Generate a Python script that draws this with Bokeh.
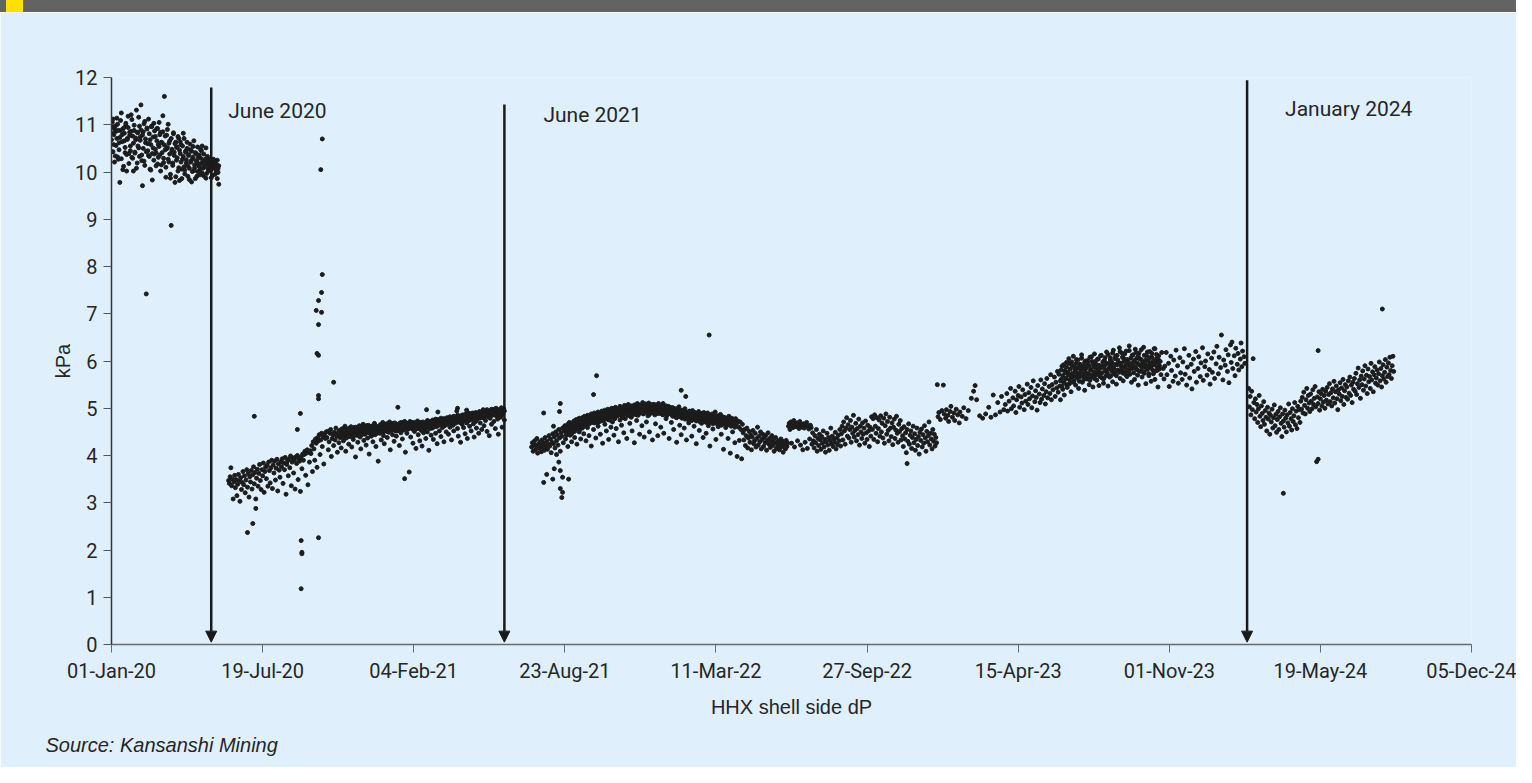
import pandas as pd
from bokeh.plotting import figure
from bokeh.layouts import column
from bokeh.models import Range1d, FixedTicker, Arrow, NormalHead, Label, Title, Div
from bokeh.embed import file_html
from bokeh.resources import INLINE

N = None
ORIGIN = pd.Timestamp("2020-01-01")

tick_labels = ["01-Jan-20", "19-Jul-20", "04-Feb-21", "23-Aug-21", "11-Mar-22",
               "27-Sep-22", "15-Apr-23", "01-Nov-23", "19-May-24", "05-Dec-24"]
y_ticks = [0, 1, 2, 3, 4, 5, 6, 7, 8, 9, 10, 11, 12]

# daily readings, segment by segment (None = no reading that day)
seg_a_start = "2020-01-01"
seg_a = [10.95, 10.82, 11.12, 10.58, 10.91, 10.34, 10.86, 10.71, 11.01, 10.27,
         10.62, 9.78, 10.88, 11.25, 10.79, 10.05, 10.93, 10.66, 10.41, 10.99,
         10.02, 10.71, 11.18, 10.39, 10.84, 10.55, 11.21, 10.31, 10.76, 10.02,
         10.88, 10.42, 10.68, 11.31, 10.19, 10.83, 10.51, 10.97, 10.74, 11.42,
         10.36, 9.71, 10.85, 10.23, 11.07, 10.62, 7.42, 10.91, 10.45, 11.12,
         10.33, 10.68, 10.04, 10.96, 9.83, 10.51, 11.03, 10.38, 10.75, 10.41,
         10.92, 10.17, 10.58, 11.05, 10.36, 10.84, 10.15, 10.62, 11.19, 10.29,
         11.6, 10.47, 9.89, 10.78, 10.52, 11.01, 10.21, 10.66, 9.87, 8.87,
         10.48, 10.14, 10.81, 10.42, 9.78, 10.63, 10.25, 10.53, 10.02, 10.71,
         9.82, 10.39, 10.58, 10.06, 10.27, 10.82, 10.11, 9.96, 10.44, 10.19,
         10.63, 9.91, 10.35, 10.08, 10.47, 10.21, 9.79, 10.28, 10.54, 10.03,
         10.15, 9.86, 10.39, 10.22, 10.01, 10.31, 10.12, 9.94, 10.47, 10.18,
         10.55, 10.08, 9.92, 10.24, 10.13, 10.51, 9.97, 10.19, 10.05, 10.26,
         10.14, 10.02, 9.88, 10.21, 10.09, 10.27, 10.17, 9.95, 10.11, 10.03,
         9.86, 10.07, 9.74]

# second reading of the day, same period
seg_a2_start = "2020-01-01"
seg_a2 = [10.68, 11.05, 10.43, 10.79, 10.21, 10.97, 10.56, 11.14, 10.32, 10.88,
          10.47, 10.73, 11.09, 10.28, 10.64, 10.91, 10.12, 10.82, 10.52, 11.03,
          10.37, 10.69, 10.94, 10.18, 10.77, 10.45, 10.86, 11.11, 10.29, 10.61,
          10.99, 10.4, 10.72, 10.08, 10.84, 10.55, 11.16, 10.33, 10.67, 10.89,
          10.24, 10.78, 10.5, 11.02, 10.14, 10.7, 10.43, 10.93, 10.6, 10.35,
          10.81, 10.06, 10.58, 10.97, 10.39, 10.74, 10.25, 10.87, 10.48, 10.13,
          10.66, 10.92, 10.31, 10.54, 10.79, 10.02, 10.63, 10.41, 10.85, 10.2,
          10.57, 10.76, 10.1, 10.49, 10.9, 10.27, 10.61, 10.38, 9.95, 10.71,
          10.44, 10.19, 10.83, 10.35, 10.6, 9.9, 10.52, 10.3, 10.75, 10.09,
          10.46, 10.64, 10.21, 9.86, 10.55, 10.33, 10.71, 10.04, 10.42, 10.26,
          10.5, 10.13, 10.37, 9.84, 10.59, 10.23, 10.44, 10.01, 10.32, 10.66,
          10.09, 10.41, 10.24, 9.91, 10.53, 10.17, 10.36, 10.05, 10.29, 10.45,
          9.98, 10.21, 10.38, 10.11, 10.27, 9.87, 10.16, 10.33, 10.06, 10.22,
          10.19, 10.28, 10.07, 10.15, 9.93, 10.24, 10.12, 10.2, 10.04, 10.16,
          10.25, 9.99, 10.13]

seg_b_start = "2020-06-04"
seg_b = [3.47, 3.41, 3.55, 3.74, 3.36, 3.5, 3.08, 3.44, 3.58, 3.32,
         3.49, 3.15, 3.39, 3.6, 3.46, 3.03, 3.53, 3.28, 3.43, 3.66,
         3.38, 3.57, 3.21, 3.48, 3.7, 3.33, 3.62, 3.12, 3.55, 3.44,
         3.68, 3.29, 3.59, 3.76, 3.4, 3.64, 3.08, 3.52, 3.71, 3.35,
         3.62, 3.81, 3.47, 3.28, 3.7, 3.57, 3.84, 3.22, 3.66, 3.75,
         3.51, 3.79, 3.35, 3.86, 3.68, 3.42, 3.74, 3.9, 3.3, 3.8,
         3.63, 3.88, 3.48, 3.73, 3.92, 3.25, 3.82, 3.69, 3.54, 3.87,
         3.76, 3.93, 3.41, 3.84, 3.7, 3.96, 3.18, 3.81, 3.89, 3.57,
         3.92, 3.74, 3.99, 3.36, 3.86, 3.95, 3.63, 3.9, 3.29, 3.97,
         3.83, 4.0, 3.49, 3.93, 3.88, 3.24, 3.97, 3.72, 4.03, 3.9,
         4.02, 4.09, 3.58, 4.05, 4.12, 3.38, 4.07, 3.86, 4.1, 4.04,
         4.21, 3.66, 4.29, 4.14, 3.9, 4.35, 4.26, 3.75, 4.38, 4.31,
         4.44, 4.02, 4.33, 4.47, 4.19, 4.4, 3.82, 4.46, 4.36, 4.5,
         4.38, 4.51, 4.12, 4.29, 4.47, 4.55, 3.98, 4.36, 4.44, 4.21,
         4.49, 4.33, 4.58, 4.41, 4.07, 4.46, 4.27, 4.53, 4.39, 4.16,
         4.42, 4.57, 4.31, 4.48, 4.62, 4.09, 4.37, 4.52, 4.45, 4.24,
         4.55, 4.4, 4.61, 4.18, 4.47, 4.34, 4.59, 4.5, 3.97, 4.43,
         4.58, 4.28, 4.46, 4.63, 4.39, 4.14, 4.54, 4.49, 4.66, 4.32,
         4.45, 4.6, 4.22, 4.51, 4.37, 4.64, 4.03, 4.48, 4.56, 4.41,
         4.62, 4.29, 4.53, 4.68, 4.44, 4.19, 4.57, 4.5, 3.88, 4.61,
         4.47, 4.65, 4.33, 4.56, 4.7, 4.42, 4.25, 4.59, 4.52, 4.67,
         4.38, 4.63, 4.49, 4.71, 4.12, 4.55, 4.6, 4.44, 4.68, 4.3,
         4.57, 4.66, 4.41, 4.52, 5.02, 4.62, 4.21, 4.69, 4.48, 4.58,
         4.35, 4.64, 4.54, 4.72, 4.07, 4.6, 4.47, 4.67, 4.56, 3.65,
         4.63, 4.39, 4.58, 4.7, 4.26, 4.61, 4.51, 4.68, 4.15, 4.57,
         4.66, 4.44, 4.59, 4.31, 4.7, 4.53, 4.2, 4.62, 4.48, 4.67,
         4.55, 4.36, 4.64, 4.5, 4.73, 4.11, 4.6, 4.57, 4.43, 4.69,
         4.58, 4.34, 4.66, 4.75, 4.47, 4.61, 4.25, 4.92, 4.64, 4.52,
         4.71, 4.4, 4.68, 4.59, 4.77, 4.29, 4.63, 4.73, 4.5, 4.66,
         4.76, 4.45, 4.69, 4.6, 4.79, 4.33, 4.72, 4.64, 4.52, 4.8,
         4.68, 4.75, 4.94, 4.57, 4.41, 4.78, 4.7, 4.28, 4.82, 4.66,
         4.73, 4.59, 4.85, 4.46, 4.77, 4.69, 4.36, 4.9, 4.74, 4.62,
         4.81, 4.52, 4.76, 4.88, 4.67, 4.39, 4.83, 4.72, 4.58, 4.86,
         4.78, 4.47, 4.84, 4.69, 4.91, 4.55, 4.8, 4.97, 4.63, 4.87,
         4.74, 4.93, 4.51, 4.83, 4.89, 4.42, 4.79, 4.95, 4.66, 4.86,
         4.9, 4.72, 4.98, 4.57, 4.84, 4.93, 4.77, 4.45, 4.88, 4.96,
         4.81, 4.92, 4.6, 4.87, 4.99, 4.75]

seg_b2_start = "2020-10-27"
seg_b2 = [4.43, 4.51, 4.38, 4.47, 4.55, 4.41, 4.49, 4.36, 4.53, 4.45,
          4.5, 4.39, 4.56, 4.44, 4.48, 4.58, 4.42, 4.52, 4.46, 4.57,
          4.4, 4.54, 4.49, 4.6, 4.45, 4.51, 4.43, 4.59, 4.5, 4.47,
          4.56, 4.44, 4.61, 4.52, 4.48, 4.58, 4.46, 4.63, 4.53, 4.49,
          4.6, 4.5, 4.57, 4.45, 4.62, 4.54, 4.48, 4.59, 4.51, 4.64,
          4.55, 4.47, 4.61, 4.53, 4.58, 4.49, 4.65, 4.56, 4.52, 4.6,
          4.5, 4.63, 4.57, 4.54, 4.66, 4.51, 4.59, 4.62, 4.55, 4.68,
          4.58, 4.53, 4.64, 4.6, 4.56, 4.69, 4.52, 4.62, 4.66, 4.57,
          4.63, 4.55, 4.67, 4.6, 4.7, 4.54, 4.65, 4.59, 4.71, 4.62,
          4.56, 4.68, 4.61, 4.66, 4.58, 4.72, 4.63, 4.6, 4.69, 4.55,
          4.65, 4.7, 4.59, 4.67, 4.62, 4.73, 4.57, 4.64, 4.69, 4.6,
          4.66, 4.58, 4.71, 4.63, 4.68, 4.56, 4.7, 4.62, 4.74, 4.61,
          4.67, 4.72, 4.6, 4.69, 4.64, 4.75, 4.62, 4.7, 4.66, 4.77,
          4.63, 4.71, 4.76, 4.67, 4.73, 4.65, 4.79, 4.69, 4.74, 4.66,
          4.78, 4.71, 4.75, 4.68, 4.8, 4.73, 4.77, 4.7, 4.82, 4.74,
          4.69, 4.79, 4.75, 4.83, 4.72, 4.77, 4.81, 4.7, 4.85, 4.76,
          4.8, 4.73, 4.84, 4.78, 4.71, 4.86, 4.79, 4.83, 4.75, 4.88,
          4.77, 4.82, 4.86, 4.74, 4.89, 4.8, 4.84, 4.78, 4.9, 4.81,
          4.86, 4.79, 4.91, 4.83, 4.77, 4.88, 4.82, 4.93, 4.85, 4.8,
          4.9, 4.84, 4.95, 4.81, 4.88, 4.92, 4.86, 4.97, 4.83, 4.91,
          4.87, 4.94, 4.89, 4.98, 4.85, 4.93, 4.9, 4.96, 4.88, 5.0,
          4.92, 4.86, 4.97, 4.91, 4.95, 4.89, 5.01, 4.93, 4.9, 4.98,
          4.94]

seg_c_start = "2021-07-10"
seg_c = [4.18, 4.27, 4.09, 4.23, 4.31, 4.12, 4.2, 4.36, 4.05, 4.24,
         4.15, 4.29, 4.21, 4.08, 4.33, 4.17, 4.26, 4.11, 4.38, 4.19,
         4.3, 4.13, 4.24, 4.42, 4.2, 4.35, 4.06, 4.28, 4.46, 4.25,
         4.39, 4.16, 4.5, 4.31, 4.44, 4.22, 4.55, 4.37, 4.09, 4.48,
         4.41, 4.58, 4.27, 4.52, 4.63, 4.35, 4.47, 4.6, 4.19, 4.54,
         4.66, 4.43, 4.57, 4.29, 4.69, 4.51, 4.62, 4.38, 4.71, 4.56,
         4.24, 4.65, 4.74, 4.5, 4.61, 4.35, 4.7, 4.58, 4.77, 4.46,
         4.67, 4.79, 4.31, 4.72, 4.59, 4.82, 4.42, 4.68, 4.76, 4.2,
         4.73, 4.84, 4.55, 4.69, 4.8, 4.37, 4.75, 4.87, 4.62, 4.71,
         4.83, 4.45, 4.78, 4.9, 4.26, 4.74, 4.85, 4.66, 4.81, 4.52,
         4.88, 4.76, 4.34, 4.92, 4.8, 4.6, 4.86, 4.71, 4.95, 4.43,
         4.79, 4.9, 4.57, 4.84, 4.97, 4.29, 4.87, 4.75, 4.93, 4.64,
         4.82, 5.0, 4.48, 4.89, 4.78, 4.96, 4.36, 4.91, 4.85, 5.03,
         4.68, 4.94, 4.81, 4.52, 4.99, 4.87, 4.27, 4.92, 5.05, 4.74,
         4.96, 4.85, 5.07, 4.45, 4.98, 4.9, 4.63, 5.02, 4.88, 4.39,
         5.06, 4.93, 4.71, 5.0, 4.84, 5.09, 4.5, 4.97, 4.91, 5.04,
         4.33, 4.95, 5.08, 4.86, 4.67, 5.01, 4.92, 4.42, 5.05, 4.89,
         4.98, 4.6, 5.03, 4.87, 5.1, 4.47, 4.94, 5.02, 4.78, 4.97,
         4.88, 5.04, 4.36, 4.93, 4.99, 4.7, 4.85, 5.01, 4.55, 4.9,
         4.97, 4.81, 4.28, 4.95, 4.87, 5.03, 4.64, 4.89, 4.44, 4.96,
         4.84, 4.92, 4.58, 4.99, 4.8, 4.33, 4.9, 4.86, 4.69, 4.94,
         4.79, 4.88, 4.41, 4.95, 4.83, 4.62, 4.91, 4.76, 4.25, 4.87,
         4.82, 4.93, 4.53, 4.78, 4.89, 4.68, 4.84, 4.38, 4.91, 4.75,
         4.86, 4.47, 4.8, 4.9, 4.63, 4.77, 4.2, 4.85, 4.73, 4.88,
         4.56, 4.81, 4.7, 4.92, 4.34, 4.76, 4.84, 4.61, 4.79, 4.69,
         4.87, 4.45, 4.74, 4.82, 4.13, 4.71, 4.8, 4.59, 4.77, 4.66,
         4.36, 4.83, 4.72, 4.05, 4.68, 4.79, 4.5, 4.74, 4.64, 4.27,
         4.78, 4.69, 3.98, 4.73, 4.6, 4.32, 4.71, 4.55, 3.93, 4.66,
         4.48, 4.33, 4.55, 4.21, 4.42, 4.58, 4.16, 4.37, 4.51, 4.28,
         4.44, 4.12, 4.39, 4.53, 4.25, 4.31, 4.47, 4.18, 4.36, 4.6,
         4.22, 4.41, 4.29, 4.5, 4.14, 4.34, 4.45, 4.19, 4.38, 4.27,
         4.43, 4.11, 4.32, 4.48, 4.24, 4.36, 4.17, 4.29, 4.42, 4.21,
         4.33, 4.09, 4.26, 4.38, 4.15, 4.28, 4.2, 4.31, 4.12, 4.24,
         4.35, 4.18, 4.27, 4.07, 4.3, 4.22, 4.14, 4.32, 4.19, 4.26,
         4.62, 4.68, 4.55, 4.71, 4.26, 4.64, 4.59, 4.74, 4.18, 4.66,
         4.61, 4.69, 4.31, 4.63, 4.57, 4.72, 4.22, 4.65, 4.6, 4.12,
         4.67, 4.58, 4.28, 4.63, 4.7, 4.15, 4.61, 4.56, 4.35, 4.64,
         4.59, 4.24, 4.48, 4.31, 4.16, 4.42, 4.27, 4.55, 4.09, 4.36,
         4.21, 4.45, 4.33, 4.13, 4.4, 4.26, 4.52, 4.18, 4.34, 4.07,
         4.29, 4.47, 4.22, 4.38, 4.11, 4.32, 4.58, 4.25, 4.41, 4.19,
         4.35, 4.28, 4.49, 4.14, 4.37, 4.23, 4.43, 4.31, 4.55, 4.2,
         4.46, 4.62, 4.33, 4.71, 4.52, 4.24, 4.58, 4.8, 4.41, 4.65,
         4.37, 4.55, 4.74, 4.28, 4.6, 4.47, 4.85, 4.39, 4.53, 4.68,
         4.31, 4.57, 4.44, 4.77, 4.22, 4.62, 4.5, 4.36, 4.69, 4.45,
         4.58, 4.26, 4.73, 4.48, 4.34, 4.64, 4.52, 4.19, 4.6, 4.41,
         4.82, 4.55, 4.78, 4.34, 4.86, 4.62, 4.47, 4.8, 4.29, 4.57,
         4.75, 4.41, 4.84, 4.5, 4.68, 4.37, 4.79, 4.26, 4.63, 4.88,
         4.45, 4.72, 4.53, 4.31, 4.81, 4.58, 4.4, 4.69, 4.23, 4.6,
         4.77, 4.36, 4.54, 4.83, 4.47, 4.28, 4.66, 4.51, 4.74, 4.33,
         4.57, 4.42, 4.19, 4.61, 4.35, 4.48, 4.06, 4.55, 4.3, 4.67,
         4.24, 4.43, 4.52, 4.15, 4.38, 4.62, 4.27, 4.46, 4.11, 4.34,
         4.58, 4.21, 4.4, 4.03, 4.49, 4.32, 4.56, 4.18, 4.44, 4.26,
         4.63, 4.37, 4.09, 4.51, 4.29, 4.42, 4.71, 4.22, 4.47, 4.35,
         4.14, 4.55, 4.3, 4.45, 4.2, 4.38, 4.27]

seg_c2_start = "2021-08-23"
seg_c2 = [4.52, 4.61, 4.43, 4.57, 4.66, 4.49, 4.7, 4.55, 4.63, 4.46,
          4.68, 4.59, 4.73, 4.51, 4.65, 4.76, 4.58, 4.69, 4.62, 4.79,
          4.55, 4.71, 4.66, 4.8, 4.6, 4.74, 4.83, 4.64, 4.77, 4.69,
          4.85, 4.72, 4.67, 4.81, 4.76, 4.88, 4.7, 4.84, 4.78, 4.9,
          4.74, 4.86, 4.8, 4.69, 4.92, 4.83, 4.77, 4.89, 4.73, 4.94,
          4.81, 4.87, 4.76, 4.96, 4.84, 4.91, 4.79, 4.98, 4.86, 4.75,
          4.93, 4.88, 5.0, 4.82, 4.95, 4.9, 4.78, 5.02, 4.87, 4.97,
          4.84, 4.99, 4.92, 5.04, 4.86, 4.96, 5.01, 4.8, 4.94, 5.06,
          4.89, 4.98, 5.03, 4.85, 5.08, 4.93, 4.99, 4.83, 5.05, 4.91,
          5.02, 4.88, 5.07, 4.95, 5.0, 4.86, 5.1, 4.97, 5.04, 4.9,
          5.06, 4.93, 5.01, 5.12, 4.89, 5.05, 4.98, 5.09, 4.92, 5.03,
          4.96, 5.11, 4.87, 5.04, 5.0, 4.94, 5.08, 4.91, 5.02, 4.97,
          5.07, 4.88, 5.01, 4.95, 5.1, 4.9, 5.04, 4.93, 4.99, 5.06,
          4.86, 5.03, 4.97, 4.91, 5.05, 4.84, 5.0, 4.94, 4.89, 5.02,
          4.92, 4.87, 5.01, 4.83, 4.96, 4.9, 4.85, 4.99, 4.8, 4.93,
          4.88, 4.97, 4.82, 4.91, 4.86, 4.79, 4.95, 4.84, 4.9, 4.77,
          4.93, 4.81, 4.87, 4.76, 4.92, 4.85, 4.8, 4.89, 4.74, 4.86,
          4.82, 4.91, 4.77, 4.84, 4.73, 4.88, 4.8, 4.75, 4.86, 4.71,
          4.83, 4.78, 4.89, 4.72, 4.81, 4.76, 4.85, 4.7, 4.79, 4.74,
          4.84, 4.69, 4.77, 4.82, 4.72, 4.8, 4.67, 4.76, 4.83, 4.7,
          4.78, 4.73, 4.66, 4.81, 4.75, 4.69, 4.79, 4.64, 4.77, 4.72,
          4.67, 4.8, 4.71, 4.63, 4.76, 4.7, 4.65, 4.78, 4.68, 4.73,
          4.62, 4.75, 4.69, 4.66, 4.72, 4.6, 4.7, 4.67]

seg_d_start = "2022-12-29"
seg_d = [5.5, 4.82, 4.91, N, 4.76, N, 4.95, N, 5.49, 4.88,
         N, 4.79, 4.97, N, 4.85, 4.72, N, 4.93, 5.04, N,
         4.81, N, 4.9, 4.74, N, 4.98, N, 4.86, N, 4.69,
         4.92, N, N, 4.83, N, 5.01, N, N, 4.78, N,
         N, 4.95, N, N, N, 5.21, N, N, 5.36, N,
         5.48, N, 5.18, N, N, N, 4.84, N, N, N,
         4.79, N, N, N, 4.88, N, N, N, 5.02, N,
         N, 4.81, N, N, 5.28, N, N, 4.86, N, N,
         5.12, N, N, 4.92, N, 5.25, N, N, 4.97, N,
         5.08, N, 5.31, 4.94, N, 5.15, N, 5.42, 4.99, N,
         5.22, 5.05, N, 5.36, 4.91, 5.18, N, 5.27, 5.46, 5.02,
         N, 5.24, 5.11, 5.39, N, 4.97, 5.29, 5.15, N, 5.51,
         5.08, 5.33, 5.2, N, 5.44, 5.01, 5.26, 5.58, N, 5.14,
         5.37, 5.23, 4.96, 5.48, N, 5.3, 5.12, 5.6, 5.19, 5.41,
         N, 5.27, 5.52, 5.09, 5.35, 5.63, 5.22, N, 5.46, 5.31,
         5.71, 5.18, 5.5, 5.39, N, 5.66, 5.25, 5.55, 5.43, 5.78,
         5.34, 5.72, 5.47, 5.18, 5.61, 5.89, 5.4, 5.55, 5.28, 5.8,
         5.63, 5.97, 5.44, 5.76, 6.05, 5.52, 5.69, 5.35, 5.91, 5.66,
         6.1, 5.58, 5.83, 5.49, 5.95, 5.74, 6.02, 5.42, 5.86, 5.67,
         5.79, 6.13, 5.55, 5.9, 5.71, 5.38, 6.0, 5.84, 5.62, 5.96,
         5.73, 5.5, 6.08, 5.81, 5.66, 5.99, 5.45, 5.88, 6.15, 5.7,
         5.93, 5.59, 5.78, 6.04, 5.48, 5.85, 5.72, 6.12, 5.64, 5.9,
         5.53, 6.01, 5.82, 5.68, 6.19, 5.75, 5.47, 5.94, 5.86, 6.07,
         5.69, 5.97, 5.56, 6.23, 5.83, 5.74, 6.1, 5.51, 5.92, 6.02,
         5.79, 6.28, 5.63, 5.95, 5.87, 6.16, 5.58, 6.05, 5.76, 5.9,
         6.21, 5.67, 5.99, 5.81, 6.32, 5.72, 5.93, 5.55, 6.12, 5.86,
         5.97, 5.61, 6.25, 5.84, 6.06, 5.7, 5.49, 6.17, 5.91, 5.78,
         6.03, 5.66, 5.95, 6.29, 5.74, 5.88, 5.52, 6.11, 5.82, 6.0,
         5.69, 6.2, 5.86, 5.57, 6.08, 5.93, 5.73, 6.26, 5.61, 5.97,
         6.14, 5.8, 5.45, 6.02, 5.9, N, 5.71, 6.18, N, 5.84,
         5.62, 5.89, N, 6.18, 5.71, N, 5.95, 5.46, N, 6.1,
         5.8, N, 5.57, 6.02, N, 5.68, 6.23, N, 5.9, 5.53,
         N, 6.07, 5.75, N, 5.61, 5.98, N, 6.26, 5.72, N,
         5.49, 5.87, N, 6.12, 5.64, N, 5.93, 5.41, N, 6.04,
         5.78, N, 6.2, 5.55, N, 5.84, 6.09, N, 5.67, 5.96,
         N, 6.28, 5.59, N, 5.88, 6.0, N, 5.7, 6.15, N,
         5.82, 5.51, N, 6.06, 5.76, N, 6.19, 5.63, N, 5.94,
         6.31, N, 5.73, 6.08, N, 5.86, 6.55, N, 5.6, 6.02,
         N, 5.91, 6.24, N, 5.78, 6.13, 5.54, N, 6.34, 5.97,
         6.4, 5.84, N, 6.11, 5.69, 6.27, N, 5.93, 6.16, 5.81,
         N, 6.04, 6.38, 5.88, 6.21, N, 6.09, 5.95]

seg_d2_start = "2023-06-10"
seg_d2 = [5.58, 5.81, 5.46, 5.69, 5.92, 5.53, 5.75, 5.62, 5.87, 5.5,
          5.71, 5.95, 5.6, 5.83, 5.66, 5.98, 5.74, 5.55, 5.89, 5.68,
          5.8, 6.03, 5.64, 5.86, 5.72, 5.57, 5.93, 5.78, 6.06, 5.69,
          5.84, 5.61, 5.97, 5.76, 5.88, 5.65, 6.01, 5.73, 5.9, 5.59,
          5.82, 6.09, 5.7, 5.94, 5.77, 5.63, 5.99, 5.85, 5.72, 6.04,
          5.8, 5.91, 5.67, 6.11, 5.86, 5.75, 5.98, 5.62, 5.89, 6.07,
          5.78, 5.95, 5.71, 6.14, 5.84, 5.66, 6.02, 5.9, 5.79, 6.17,
          5.87, 5.73, 6.05, 5.93, 5.69, 6.12, 5.81, 5.97, 5.76, 6.2,
          5.91, 5.8, 6.08, 5.74, 5.99, 6.15, 5.85, 5.7, 6.03, 5.94,
          5.78, 6.22, 5.89, 6.06, 5.83, 5.96, 6.13, 5.75, 6.01, 5.88,
          6.18, 5.82, 5.95, 6.1, 5.79, 6.04, 5.91, 6.24, 5.86, 5.98,
          5.77, 6.12, 5.93, 6.02, 5.84, 6.19, 5.9, 5.73, 6.07, 5.96,
          5.88, 6.16, 5.81, 6.0, 5.92, 6.26, 5.79, 6.05, 5.87, 5.97,
          6.11, 5.83, 5.99]

seg_e_start = "2024-02-14"
seg_e = [5.42, 5.03, 5.25, 4.86, 5.36, 4.97, 6.05, 5.12, 4.78, 5.2,
         4.92, 5.08, 4.7, 4.99, 5.27, 4.83, 4.61, 5.05, 4.89, 4.74,
         5.14, 4.66, 4.95, 4.81, 4.52, 5.02, 4.77, 4.9, 4.45, 4.85,
         4.71, 4.98, 4.58, 4.8, 5.07, 4.63, 4.87, 4.49, 4.76, 4.93,
         4.55, 4.82, 5.01, 4.68, 4.4, 4.88, 4.73, 4.6, 4.96, 4.79,
         4.5, 4.86, 4.69, 5.09, 4.62, 4.91, 4.78, 4.54, 4.99, 4.72,
         4.84, 5.12, 4.65, 4.94, 4.57, 5.04, 4.8, 4.97, 4.7, 5.15,
         4.98, 5.23, 4.9, 5.34, 5.06, 4.88, 5.18, 5.42, 5.0, 5.27,
         5.11, 4.93, 5.3, 5.15, 4.99, 5.39, 5.08, 5.21, 5.46, 5.03,
         3.87, 5.24, 5.1, 5.35, 4.96, 5.2, 5.31, 5.05, 5.4, 5.13,
         5.27, 5.0, 5.36, 5.17, 5.44, 5.09, 5.29, 5.52, 5.14, 5.33,
         5.05, 5.41, 5.22, 5.57, 5.11, 5.35, 5.47, 5.2, 4.97, 5.39,
         5.3, 5.54, 5.16, 5.43, 5.25, 5.61, 5.08, 5.37, 5.5, 5.23,
         5.45, 5.19, 5.58, 5.32, 5.66, 5.27, 5.49, 5.12, 5.55, 5.4,
         5.63, 5.36, 5.74, 5.29, 5.52, 5.85, 5.44, 5.6, 5.21, 5.68,
         5.5, 5.79, 5.38, 5.62, 5.9, 5.47, 5.7, 5.31, 5.83, 5.56,
         5.67, 5.42, 5.95, 5.6, 5.77, 5.35, 5.71, 5.88, 5.53, 5.64,
         5.81, 5.49, 5.73, 5.98, 5.58, 5.84, 5.45, 5.69, 5.92, 5.62,
         5.76, 6.03, 5.55, 5.87, 5.67, 5.96, 5.71, 6.08, 5.8, 5.63,
         5.9, 6.1, 5.78]

# additional readings on days that already have one (day number from 01-Jan-20, kPa)
extra_days = [180, 187, 189, 191, 246, 250, 251, 251, 252, 252, 271, 272, 274, 274,
              274, 274, 274, 274, 277, 278, 278, 279, 279, 294, 388, 417, 458, 470,
              572, 572, 576, 584, 585, 586, 589, 592, 593, 594, 594, 594, 596, 597,
              597, 605, 638, 642, 754, 760, 791, 1053, 1551, 1597, 1597, 1682]
extra_values = [2.37, 2.56, 4.83, 2.88, 4.55, 4.89, 2.2, 1.18, 1.95, 1.92, 7.07, 6.16,
                6.12, 7.28, 6.77, 5.27, 5.2, 2.26, 10.05, 7.45, 7.03, 10.7, 7.83, 5.55,
                3.51, 4.97, 5.0, 4.96, 3.43, 4.9, 3.6, 3.5, 4.62, 3.72, 4.02, 3.86,
                4.93, 3.68, 3.3, 5.1, 3.11, 3.54, 3.22, 3.5, 5.29, 5.69, 5.38, 5.25,
                6.55, 3.83, 3.2, 3.92, 6.22, 7.1]

event_labels = ["June 2020", "June 2021", "January  2024"]
event_dates = ["2020-05-12", "2021-06-04", "2024-02-12"]


def day(s):
    return (pd.Timestamp(s) - ORIGIN).days


xs, ys = [], []
for start, vals in [(seg_a_start, seg_a), (seg_a2_start, seg_a2),
                    (seg_b_start, seg_b), (seg_b2_start, seg_b2),
                    (seg_c_start, seg_c), (seg_c2_start, seg_c2),
                    (seg_d_start, seg_d), (seg_d2_start, seg_d2),
                    (seg_e_start, seg_e)]:
    d0 = day(start)
    for i, v in enumerate(vals):
        if v is not None:
            xs.append(d0 + i)
            ys.append(v)
xs += extra_days
ys += extra_values

tick_days = [(pd.to_datetime(t, format="%d-%b-%y") - ORIGIN).days for t in tick_labels]

BG = "#dff0fc"
TXT = "#262626"
TICK_FONT = "Roboto"
W = 1516
HEAD_H = 12
H = 767 - HEAD_H

# thin header band (remnant of the figure-title bar)
head = Div(width=W, height=HEAD_H, margin=(0, 0, 0, 0),
           styles={"background-color": "#636363", "overflow": "hidden"},
           text='<div style="margin-left:6px;width:17px;height:12px;background:#ffe100"></div>')

p = figure(width=W, height=H, output_backend="svg", toolbar_location=None,
           x_range=Range1d(tick_days[0], tick_days[-1]), y_range=Range1d(0, 12),
           min_border_left=111, min_border_right=W - 1471, min_border_top=77 - HEAD_H,
           min_border_bottom=123,
           background_fill_color=BG, border_fill_color=BG, outline_line_color=None)
p.grid.visible = False

p.xaxis.ticker = FixedTicker(ticks=tick_days)
p.xaxis.major_label_overrides = {d: t for d, t in zip(tick_days, tick_labels)}
p.yaxis.ticker = FixedTicker(ticks=y_ticks)
for ax in (p.xaxis, p.yaxis):
    ax.minor_tick_line_color = None
    ax.major_tick_in = 0
    ax.major_tick_out = 8
    ax.major_label_standoff = 6
    ax.major_label_text_font = TICK_FONT
    ax.major_label_text_font_size = "20px"
    ax.major_label_text_color = TXT
    ax.axis_label_text_font = "Liberation Sans"
    ax.axis_label_text_font_style = "normal"
    ax.axis_label_text_font_size = "20px"
    ax.axis_label_text_color = TXT
p.xaxis.axis_line_color = "#6a6a6a"
p.xaxis.major_tick_line_color = "#6a6a6a"
p.xaxis.axis_line_width = 1.5
p.yaxis.axis_line_color = "#333333"
p.yaxis.major_tick_line_color = "#555555"
p.yaxis.axis_line_width = 1.5
p.xaxis.axis_label = "HHX shell side dP"
p.yaxis.axis_label = "kPa"
p.xaxis.axis_label_standoff = 10
p.yaxis.axis_label_standoff = -2

p.scatter(xs, ys, size=4, color="#1c1c1c", marker="circle")

event_tops = [11.79, 11.43, 11.94]
label_dx = [17, 39, 38]
label_y = [11.3, 11.2, 11.34]
for lbl, dt, top, dx, ly in zip(event_labels, event_dates, event_tops, label_dx, label_y):
    d = day(dt)
    p.add_layout(Arrow(end=NormalHead(size=11, fill_color="#1a1a1a", line_color="#1a1a1a"),
                       x_start=d, y_start=top, x_end=d, y_end=0.05,
                       line_color="#1a1a1a", line_width=2.5))
    p.add_layout(Label(x=d, y=ly, x_offset=dx, text=lbl, text_font=TICK_FONT,
                       text_font_size="21px", text_color=TXT, text_baseline="middle"))

p.add_layout(Title(text="Source: Kansanshi Mining", align="left", offset=45 - 111,
                   standoff=23, text_font="Liberation Sans", text_font_style="italic",
                   text_font_size="20px", text_color=TXT), "below")

open("out.html", "w").write(file_html(column(head, p, spacing=0), INLINE))
